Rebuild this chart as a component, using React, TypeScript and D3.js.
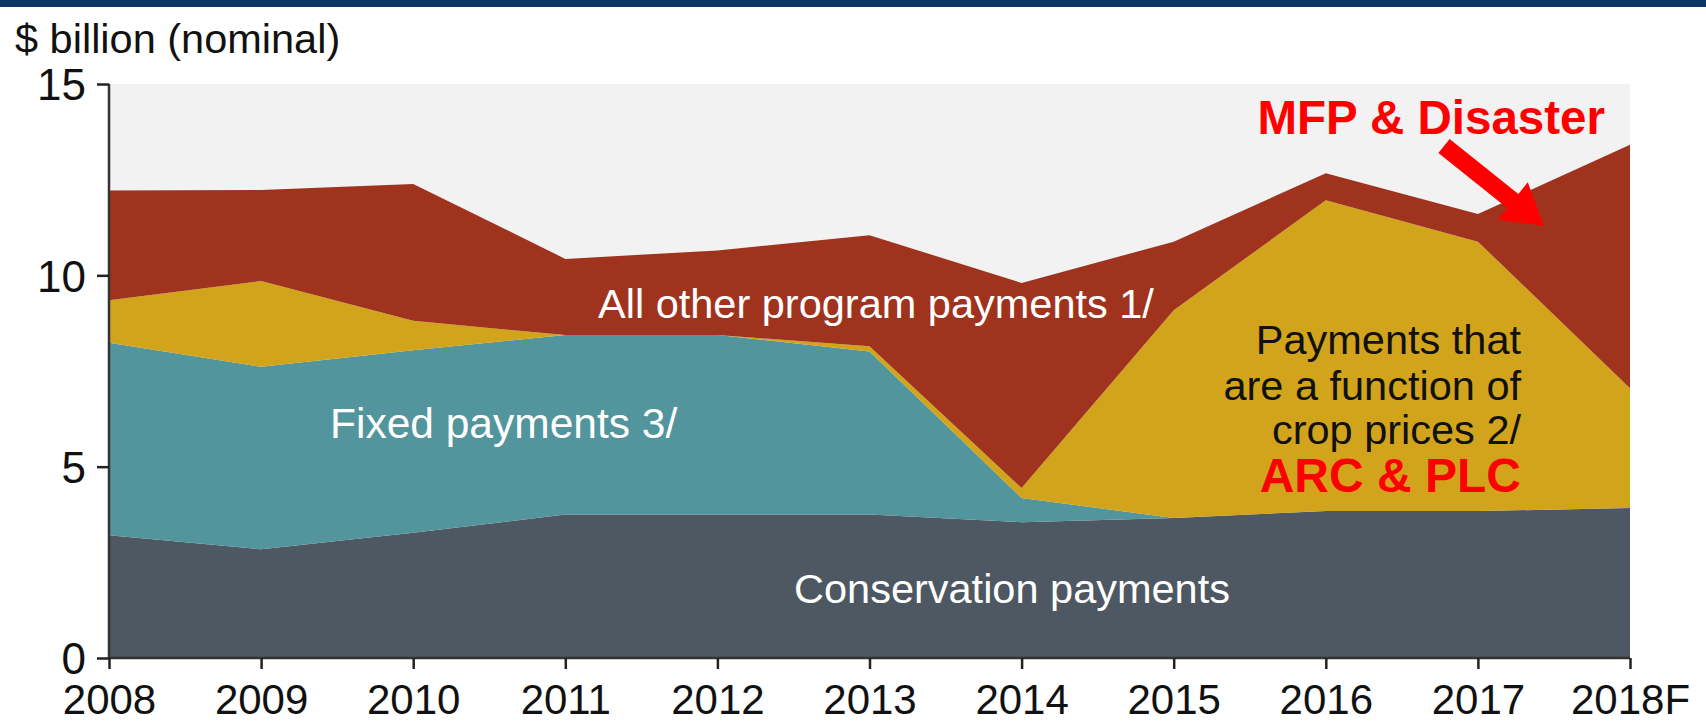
import React, { useEffect, useRef } from 'react'
import * as d3 from 'd3'

const years = ['2008', '2009', '2010', '2011', '2012', '2013', '2014', '2015', '2016', '2017', '2018F']
const conservation = [3.21, 2.84, 3.27, 3.75, 3.75, 3.75, 3.55, 3.66, 3.84, 3.84, 3.92]
const fixedPayments = [5.03, 4.77, 4.77, 4.69, 4.69, 4.26, 0.63, 0, 0, 0, 0]
const cropPrice = [1.11, 2.24, 0.77, 0, 0, 0.14, 0.26, 5.43, 8.12, 7.04, 3.13]
const otherPayments = [2.87, 2.38, 3.58, 1.99, 2.21, 2.9, 5.36, 1.79, 0.71, 0.72, 6.36]
const yTicks = [0, 5, 10, 15]

const keys = ['conservation', 'fixed', 'crop', 'other']
const colors: Record<string, string> = {
  conservation: '#4e5862',
  fixed: '#53959c',
  crop: '#d2a41b',
  other: '#a0331e'
}

const FONT = '"Liberation Sans", Arial, sans-serif'

export default function App() {
  const svgRef = useRef<SVGSVGElement>(null)

  useEffect(() => {
    if (!svgRef.current) return
    const svg = d3.select(svgRef.current)
    svg.selectAll('*').remove()

    const width = 1706
    const height = 724
    const margin = { top: 84, right: 76, bottom: 66, left: 109 }
    const innerWidth = width - margin.left - margin.right
    const innerHeight = height - margin.top - margin.bottom

    svg.attr('width', width).attr('height', height).style('font-family', FONT)

    svg.append('rect').attr('width', width).attr('height', height).attr('fill', '#ffffff')
    // top banner
    svg.append('rect').attr('width', width).attr('height', 7).attr('fill', '#0b3567')

    svg.append('text')
      .attr('x', 15)
      .attr('y', 53)
      .attr('font-size', 41.5)
      .attr('fill', '#111')
      .text('$ billion (nominal)')

    const g = svg.append('g').attr('transform', `translate(${margin.left},${margin.top})`)

    const x = d3.scalePoint<string>().domain(years).range([0, innerWidth])
    const y = d3.scaleLinear().domain([0, 15]).range([innerHeight, 0])

    g.append('rect')
      .attr('width', innerWidth)
      .attr('height', innerHeight)
      .attr('fill', '#f2f2f2')

    const rows = years.map((yr, i) => ({
      year: yr,
      conservation: conservation[i],
      fixed: fixedPayments[i],
      crop: cropPrice[i],
      other: otherPayments[i]
    }))

    const series = d3.stack<any>().keys(keys)(rows)

    const area = d3.area<any>()
      .x(d => x(d.data.year) as number)
      .y0(d => y(d[0]))
      .y1(d => y(d[1]))

    g.selectAll('.layer')
      .data(series)
      .enter()
      .append('path')
      .attr('class', 'layer')
      .attr('fill', d => colors[d.key])
      .attr('d', area as any)

    // axes
    const yAxis = g.append('g')
      .call(d3.axisLeft(y).tickValues(yTicks).tickSize(12).tickPadding(11).tickFormat(d3.format('d')))
    const xAxis = g.append('g')
      .attr('transform', `translate(0,${innerHeight})`)
      .call(d3.axisBottom(x).tickSize(11).tickPadding(11))

    for (const ax of [yAxis, xAxis]) {
      ax.select('.domain').attr('stroke', '#333').attr('stroke-width', 2.5)
      ax.selectAll('.tick line').attr('stroke', '#222').attr('stroke-width', 2.5)
      ax.selectAll('.tick text')
        .attr('font-size', 44)
        .attr('font-family', FONT)
        .attr('fill', '#111')
    }
    yAxis.select('.domain').attr('d', `M0,0V${innerHeight}`)
    xAxis.select('.domain').attr('d', `M0,0H${innerWidth}`)
    yAxis.selectAll('.tick text').attr('dy', '0.36em')
    xAxis.selectAll('.tick text').attr('font-size', 42).attr('dy', '0.8em')

    // series labels
    const label = (tx: number, ty: number, txt: string, opts: { fill: string; anchor?: string; size?: number; bold?: boolean }) => {
      svg.append('text')
        .attr('x', tx)
        .attr('y', ty)
        .attr('text-anchor', opts.anchor ?? 'start')
        .attr('font-size', opts.size ?? 41.5)
        .attr('font-weight', opts.bold ? 'bold' : 'normal')
        .attr('fill', opts.fill)
        .text(txt)
    }

    label(598, 318, 'All other program payments 1/', { fill: '#ffffff' })
    label(330, 438, 'Fixed payments 3/', { fill: '#ffffff', size: 42.5 })
    label(794, 603, 'Conservation payments', { fill: '#ffffff' })
    label(1521, 354, 'Payments that', { fill: '#111', anchor: 'end' })
    label(1521, 400, 'are a function of', { fill: '#111', anchor: 'end' })
    label(1521, 444, 'crop prices 2/', { fill: '#111', anchor: 'end' })
    label(1521, 492, 'ARC & PLC', { fill: '#ff0000', anchor: 'end', size: 48, bold: true })
    label(1605, 134, 'MFP & Disaster', { fill: '#ff0000', anchor: 'end', size: 47.5, bold: true })

    // annotation arrow
    const start: [number, number] = [1444, 146]
    const tip: [number, number] = [1544, 226]
    const dx = tip[0] - start[0]
    const dy = tip[1] - start[1]
    const len = Math.hypot(dx, dy)
    const ux = dx / len
    const uy = dy / len
    const nx = -uy
    const ny = ux
    const headLen = 40
    const shaft = 9
    const head = 24
    const hx = tip[0] - ux * headLen
    const hy = tip[1] - uy * headLen
    const pts: [number, number][] = [
      [start[0] + nx * shaft, start[1] + ny * shaft],
      [hx + nx * shaft, hy + ny * shaft],
      [hx + nx * head, hy + ny * head],
      tip,
      [hx - nx * head, hy - ny * head],
      [hx - nx * shaft, hy - ny * shaft],
      [start[0] - nx * shaft, start[1] - ny * shaft]
    ]
    svg.append('path')
      .attr('d', d3.line()(pts) + 'Z')
      .attr('fill', '#ff0000')
  }, [])

  return (
    <svg ref={svgRef} style={{ position: 'absolute', left: 0, top: 0, display: 'block' }} />
  )
}
